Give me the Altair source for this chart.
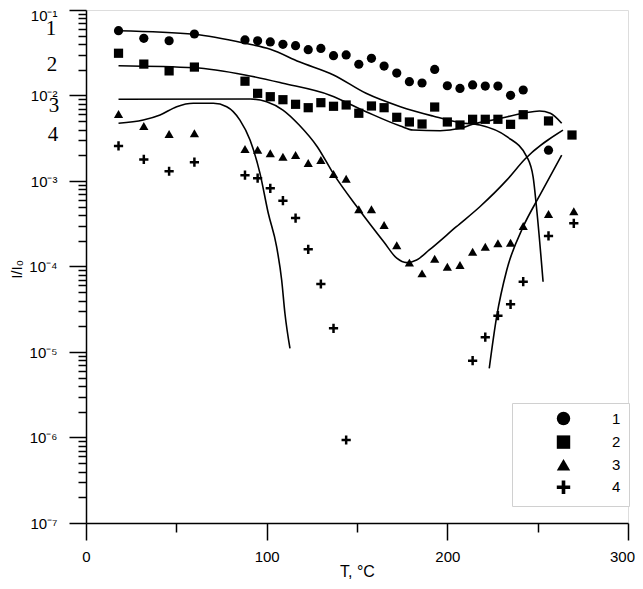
import altair as alt
import pandas as pd

# ---------------- measured points ----------------
series_names = ["1", "2", "3", "4"]

t1 = [18, 32, 46, 60, 88, 95, 102, 109, 116, 123, 130, 137, 144, 151, 158, 165, 172,
      179, 186, 193, 200, 207, 214, 221, 228, 235, 242, 256]
i1 = [0.0573, 0.0467, 0.0437, 0.0524, 0.0446, 0.0437, 0.0423, 0.0397, 0.0382, 0.0343,
      0.0355, 0.0292, 0.0298, 0.0232, 0.0272, 0.0221, 0.0183, 0.0145, 0.0140, 0.0202,
      0.0130, 0.0121, 0.0133, 0.0129, 0.0129, 0.01005, 0.0116, 0.00229]

t2 = [18, 32, 46, 60, 88, 95, 102, 109, 116, 123, 130, 137, 144, 151, 158, 165, 172,
      179, 186, 193, 200, 207, 214, 221, 228, 235, 242, 256, 269]
i2 = [0.0312, 0.0233, 0.0194, 0.0215, 0.0147, 0.0106, 0.00968, 0.00893, 0.00789, 0.00720,
      0.00824, 0.00748, 0.00775, 0.00620, 0.00754, 0.00720, 0.00556, 0.00490, 0.00464,
      0.00733, 0.00490, 0.00452, 0.00527, 0.00527, 0.00527, 0.00460, 0.00596, 0.00504,
      0.00345]

t3 = [18, 32, 46, 60, 88, 95, 102, 109, 116, 123, 130, 137, 144, 151, 158, 165, 172,
      179, 186, 193, 200, 207, 214, 221, 228, 235, 242, 256, 270]
i3 = [0.00608, 0.00440, 0.00355, 0.00361, 0.00237, 0.00232, 0.00211, 0.00192, 0.00201,
      0.00162, 0.00176, 0.00121, 0.00106, 0.000467, 0.000467, 0.000306, 0.000177,
      0.000111, 0.0000831, 0.000123, 0.0000995, 0.000104, 0.000149, 0.000170, 0.000187,
      0.000190, 0.000298, 0.000411, 0.000443]

t4 = [18, 32, 46, 60, 88, 95, 102, 109, 116, 123, 130, 137, 144, 214, 221, 228, 235,
      242, 256, 270]
i4 = [0.00257, 0.00179, 0.00130, 0.00166, 0.00117, 0.00108, 0.000822, 0.000589, 0.000369,
      0.000159, 0.0000624, 0.0000189, 0.000000935, 0.00000791, 0.0000149, 0.0000266,
      0.0000361, 0.0000664, 0.000228, 0.000320]

# ---------------- fitted curves ----------------
c1_t = [18, 60, 88, 102, 118, 137, 155, 174, 192, 207, 218, 233, 244, 247.5, 249.5, 253]
c1_i = [0.0573, 0.0520, 0.0408, 0.0347, 0.0248, 0.0174, 0.0106, 0.0074, 0.00575, 0.00481,
        0.00452, 0.0033, 0.00192, 0.00111, 0.000458, 0.0000664]

c2_t = [18, 60, 88, 109, 135, 155, 174, 181, 196, 207, 214, 228, 242, 251, 257, 263.3]
c2_i = [0.0223, 0.0211, 0.0174, 0.0139, 0.0101, 0.00647, 0.0044, 0.00395, 0.00387,
        0.00413, 0.0046, 0.00531, 0.0062, 0.00659, 0.0062, 0.00473]

c3_t = [18, 91, 100, 109, 118, 128, 137, 151, 165, 172, 177.5, 183, 190, 205, 218, 233,
        243, 264]
c3_i = [0.00904, 0.0091, 0.00846, 0.00676, 0.00452, 0.00252, 0.00121, 0.000467, 0.000192,
        0.000125, 0.000111, 0.000119, 0.000156, 0.000292, 0.0005, 0.00103, 0.00181, 0.00394]

c4a_t = [18, 31.7, 41, 50.2, 59.4, 70.5, 77.9, 85.2, 90.8, 96.3, 100.9, 105.5, 108.3,
         110.1, 112.9]
c4a_i = [0.00473, 0.00516, 0.00591, 0.0074, 0.00811, 0.00811, 0.0074, 0.00516, 0.00302,
         0.00123, 0.000419, 0.000171, 0.0000695, 0.0000284, 0.000011]

c4b_t = [223.2, 227.3, 232.9, 242, 251.3, 263.3]
c4b_i = [0.00000644, 0.0000259, 0.000091, 0.000292, 0.000686, 0.00201]

# curve labels at the left edge
lab_text = ["1", "2", "3", "4"]
lab_t = [-19.4, -18.8, -17.7, -18.3]
lab_i = [0.0600, 0.0228, 0.00753, 0.00345]

x_ticks = [0, 50, 100, 150, 200, 250, 300]
y_ticks = [k * 10.0 ** e for e in range(-7, -1) for k in range(1, 10)] + [0.1]

# ---------------- tables ----------------
pt_rows = []
for name, ts, vs in zip(series_names, [t1, t2, t3, t4], [i1, i2, i3, i4]):
    pt_rows += [{"T": t, "I": v, "series": name} for t, v in zip(ts, vs)]
pts = pd.DataFrame(pt_rows)

cv_rows = []
for name, ts, vs in [("c1", c1_t, c1_i), ("c2", c2_t, c2_i), ("c3", c3_t, c3_i),
                     ("c4a", c4a_t, c4a_i), ("c4b", c4b_t, c4b_i)]:
    cv_rows += [{"T": t, "I": v, "curve": name, "order": k} for k, (t, v) in enumerate(zip(ts, vs))]
cvs = pd.DataFrame(cv_rows)

labs = pd.DataFrame({"T": lab_t, "I": lab_i, "text": lab_text})

FONT = "Liberation Sans"
major_y = "abs(log(datum.value)/LN10 - round(log(datum.value)/LN10)) < 0.001"
y_label_expr = (major_y + " ? '10' + ['\u2070','\u207b\u00b9','\u207b\u00b2','\u207b\u00b3',"
                "'\u207b\u2074','\u207b\u2075','\u207b\u2076','\u207b\u2077']"
                "[-round(log(datum.value)/LN10)] : ''")

x_scale = alt.Scale(domain=[0, 300], nice=False, zero=False)
y_scale = alt.Scale(type="log", domain=[1e-7, 1e-1], nice=False)

x_axis = alt.Axis(
    values=x_ticks, title="T, \u00b0C", grid=False, labelFlush=False, labelOverlap=False,
    labelExpr="datum.value % 100 == 0 ? datum.label : ''",
    tickSize={"condition": {"test": "datum.value % 100 == 0", "value": 17}, "value": 9},
    labelOffset={"condition": {"test": "datum.value > 250", "value": -6}, "value": 0},
    tickColor="black", tickWidth=1.5, domainColor="black", domainWidth=1.5,
    labelFont=FONT, labelFontSize=15, labelColor="black", labelPadding=9,
    titleFont=FONT, titleFontSize=16, titleFontWeight="normal", titleColor="black",
    titleX=271, titleY=48, titleBaseline="middle",
)
y_axis = alt.Axis(
    values=y_ticks, title="I/I\u2080", grid=False, labelOverlap=False, labelFlush=False,
    labelExpr=y_label_expr,
    tickSize={"condition": {"test": major_y, "value": 17}, "value": 8},
    labelOffset={"condition": {"test": "datum.value > 0.05", "value": 5}, "value": 0},
    tickColor="black", tickWidth=1.5, domainColor="black", domainWidth=1.5,
    labelFont=FONT, labelFontSize=15, labelColor="black", labelPadding=12,
    titleFont=FONT, titleFontSize=15, titleFontWeight="normal", titleColor="black",
    titleX=-70, titleY=259, titleBaseline="middle", titleAngle=270,
)

plus_path = "M-1,-0.27H-0.27V-1H0.27V-0.27H1V0.27H0.27V1H-0.27V0.27H-1Z"

points = alt.Chart(pts).mark_point(filled=True, color="black", opacity=1, size=85).encode(
    x=alt.X("T:Q", scale=x_scale, axis=x_axis),
    y=alt.Y("I:Q", scale=y_scale, axis=y_axis),
    shape=alt.Shape(
        "series:N",
        scale=alt.Scale(domain=series_names,
                        range=["circle", "square", "triangle-up", plus_path]),
        legend=alt.Legend(
            orient="none", legendX=426, legendY=393, direction="vertical", title=None,
            padding=8, symbolOffset=36, labelOffset=41, rowPadding=2.6, symbolSize=180,
            strokeColor="#d0d0d0", fillColor="white", symbolFillColor="black",
            symbolStrokeColor="black", labelFont=FONT, labelFontSize=15, labelColor="black",
        ),
    ),
)

lines = alt.Chart(cvs).mark_line(color="black", strokeWidth=1.6, interpolate="monotone").encode(
    x=alt.X("T:Q", scale=x_scale),
    y=alt.Y("I:Q", scale=y_scale),
    detail="curve:N",
    order="order:Q",
)

labels = alt.Chart(labs).mark_text(
    font="Liberation Serif", fontSize=21, color="black", align="center", baseline="middle"
).encode(
    x=alt.X("T:Q", scale=x_scale),
    y=alt.Y("I:Q", scale=y_scale),
    text="text:N",
)

chart = alt.layer(lines, points, labels).properties(
    width=542, height=513,
    autosize=alt.AutoSizeParams(type="none"),
    padding={"left": 78, "top": 2, "right": 7, "bottom": 57},
).configure_view(stroke=None).configure(background="white")

chart.save("out.html", embed_options={"renderer": "svg", "actions": False})
